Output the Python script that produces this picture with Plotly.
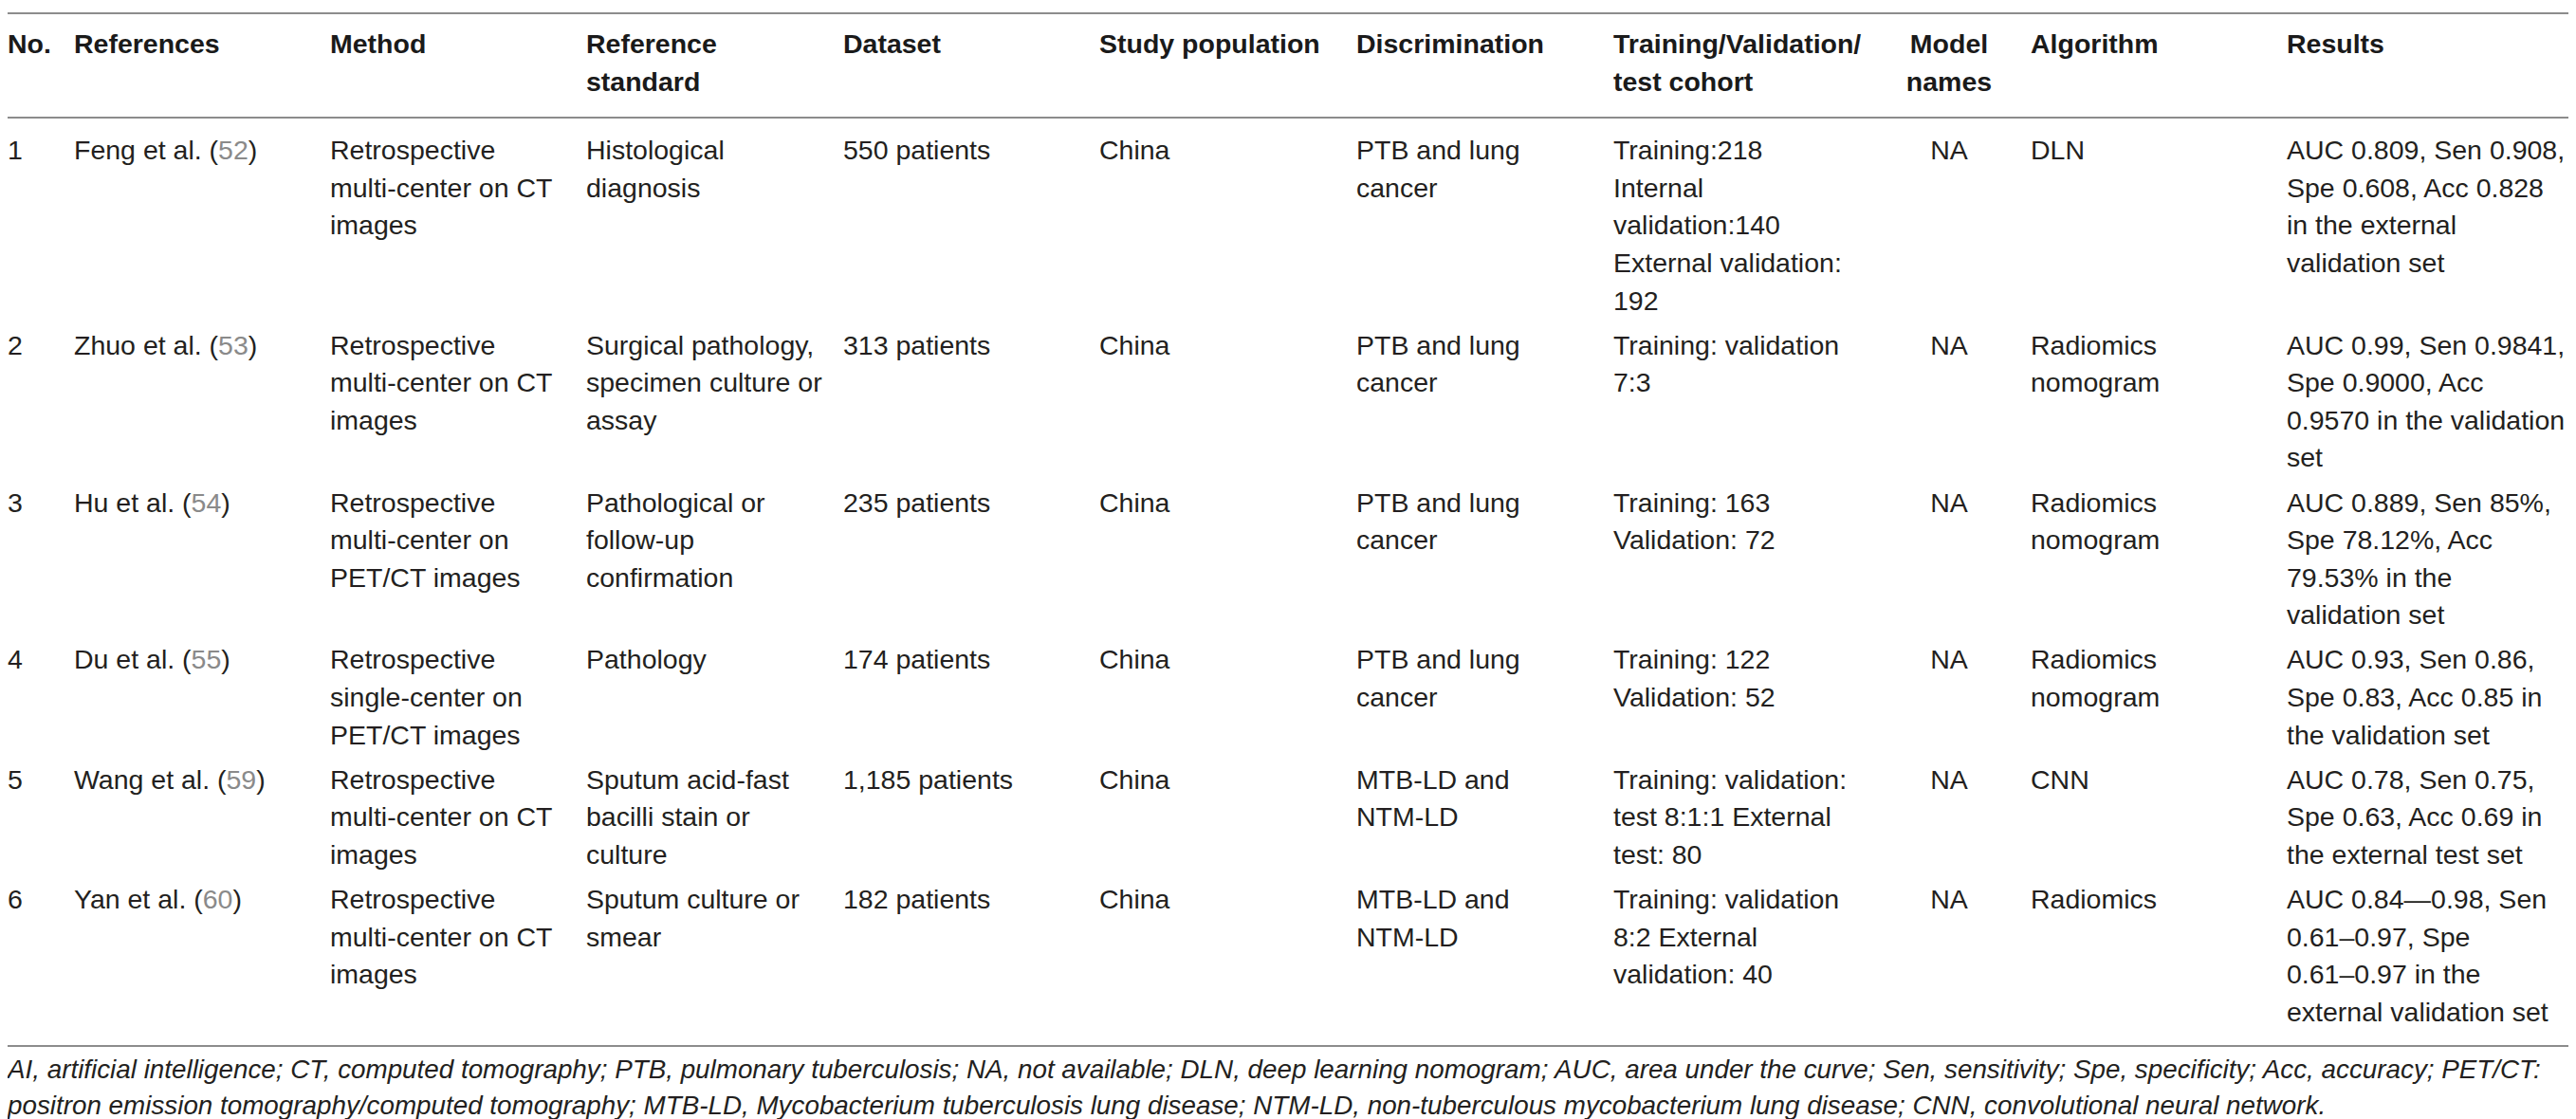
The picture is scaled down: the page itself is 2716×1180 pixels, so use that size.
import plotly.graph_objects as go

# ---------------- data ----------------
headers = ["No.", "References", "Method", "Reference<br>standard", "Dataset",
           "Study population", "Discrimination", "Training/Validation/<br>test cohort",
           "Model<br>names", "Algorithm", "Results"]

nos = ["1", "2", "3", "4", "5", "6"]
authors = ["Feng et al.", "Zhuo et al.", "Hu et al.", "Du et al.", "Wang et al.", "Yan et al."]
ref_nums = ["52", "53", "54", "55", "59", "60"]
methods = [
    "Retrospective<br>multi-center on CT<br>images",
    "Retrospective<br>multi-center on CT<br>images",
    "Retrospective<br>multi-center on<br>PET/CT images",
    "Retrospective<br>single-center on<br>PET/CT images",
    "Retrospective<br>multi-center on CT<br>images",
    "Retrospective<br>multi-center on CT<br>images",
]
ref_standards = [
    "Histological<br>diagnosis",
    "Surgical pathology,<br>specimen culture or<br>assay",
    "Pathological or<br>follow-up<br>confirmation",
    "Pathology",
    "Sputum acid-fast<br>bacilli stain or<br>culture",
    "Sputum culture or<br>smear",
]
datasets = ["550 patients", "313 patients", "235 patients", "174 patients",
            "1,185 patients", "182 patients"]
populations = ["China", "China", "China", "China", "China", "China"]
discriminations = [
    "PTB and lung<br>cancer", "PTB and lung<br>cancer", "PTB and lung<br>cancer",
    "PTB and lung<br>cancer", "MTB-LD and<br>NTM-LD", "MTB-LD and<br>NTM-LD",
]
cohorts = [
    "Training:218<br>Internal<br>validation:140<br>External validation:<br>192",
    "Training: validation<br>7:3",
    "Training: 163<br>Validation: 72",
    "Training: 122<br>Validation: 52",
    "Training: validation:<br>test 8:1:1 External<br>test: 80",
    "Training: validation<br>8:2 External<br>validation: 40",
]
model_names = ["NA", "NA", "NA", "NA", "NA", "NA"]
algorithms = ["DLN", "Radiomics<br>nomogram", "Radiomics<br>nomogram",
              "Radiomics<br>nomogram", "CNN", "Radiomics"]
results = [
    "AUC 0.809, Sen 0.908,<br>Spe 0.608, Acc 0.828<br>in the external<br>validation set",
    "AUC 0.99, Sen 0.9841,<br>Spe 0.9000, Acc<br>0.9570 in the validation<br>set",
    "AUC 0.889, Sen 85%,<br>Spe 78.12%, Acc<br>79.53% in the<br>validation set",
    "AUC 0.93, Sen 0.86,<br>Spe 0.83, Acc 0.85 in<br>the validation set",
    "AUC 0.78, Sen 0.75,<br>Spe 0.63, Acc 0.69 in<br>the external test set",
    "AUC 0.84\u20140.98, Sen<br>0.61\u20130.97, Spe<br>0.61\u20130.97 in the<br>external validation set",
]
footnote = [
    "AI, artificial intelligence; CT, computed tomography; PTB, pulmonary tuberculosis; NA, not available; "
    "DLN, deep learning nomogram; AUC, area under the curve; Sen, sensitivity; Spe, specificity; Acc, accuracy; PET/CT:",
    "positron emission tomography/computed tomography; MTB-LD, Mycobacterium tuberculosis lung disease; "
    "NTM-LD, non-tuberculous mycobacterium lung disease; CNN, convolutional neural network.",
]

# ---------------- layout / style ----------------
W, H = 2716, 1180
FONT = "Liberation Sans"
FS = 28.5
FS_NOTE = 27.8
TXT = "#231f20"
GRAY_NUM = "#8a8a8a"
RULE = "#8c8c8c"
LINE = 39.6
GAP = 7.5
ROW0 = 153
HEAD0 = 41
TEXT_PAD = 8  # plotly offsets right-positioned text by a few px
col_x = [8, 78, 348, 618, 889, 1159, 1430, 1701, 2047, 2141, 2411]
col_align = ["l", "l", "l", "l", "l", "l", "l", "l", "c", "l", "l"]

references = [f"{a} (<span style='color:{GRAY_NUM}'>{n}</span>)" for a, n in zip(authors, ref_nums)]
columns = [nos, references, methods, ref_standards, datasets, populations,
           discriminations, cohorts, model_names, algorithms, results]

# row start positions from the number of wrapped lines in each row
row_lines = [max(len(col[r].split("<br>")) for col in columns) for r in range(len(nos))]
row_y = []
y = ROW0
for n in row_lines:
    row_y.append(y)
    y += n * LINE + GAP

fig = go.Figure()

def xpos(c):
    return col_x[c] - TEXT_PAD if col_align[c] == "l" else col_x[c]

def add_lines(xs, ys, texts, align, bold=False, italic=False, color=TXT, size=FS):
    fig.add_trace(go.Scatter(
        x=xs, y=ys, text=texts, mode="text",
        textposition="middle right" if align == "l" else "middle center",
        textfont=dict(family=FONT, size=size, color=color,
                      weight="bold" if bold else "normal",
                      style="italic" if italic else "normal"),
        hoverinfo="skip", showlegend=False, cliponaxis=False,
    ))

# header
for c, h in enumerate(headers):
    parts = h.split("<br>")
    add_lines([xpos(c)] * len(parts), [HEAD0 + i * LINE for i in range(len(parts))],
              parts, col_align[c], bold=True, color="#1a1a1a")

# body
for c, col in enumerate(columns):
    xs, ys, ts = [], [], []
    for r, cell in enumerate(col):
        for i, part in enumerate(cell.split("<br>")):
            xs.append(xpos(c))
            ys.append(row_y[r] + i * LINE)
            ts.append(part)
    add_lines(xs, ys, ts, col_align[c])

# footnote
add_lines([8 - TEXT_PAD, 8 - TEXT_PAD], [1122, 1160], footnote, "l", italic=True, size=FS_NOTE)

# rules
for yy in [6, 116, 1095]:
    fig.add_shape(type="line", x0=0, x1=W, y0=yy, y1=yy, xref="x", yref="y",
                  line=dict(color=RULE, width=2))

fig.update_layout(
    width=W, height=H, margin=dict(l=0, r=0, t=0, b=0),
    paper_bgcolor="white", plot_bgcolor="white",
    xaxis=dict(range=[0, W], visible=False, fixedrange=True),
    yaxis=dict(range=[H, 0], visible=False, fixedrange=True),
)

fig.write_html("out.html", config={"displayModeBar": False})
